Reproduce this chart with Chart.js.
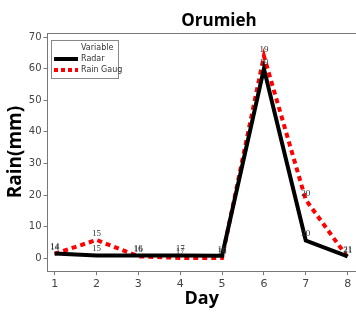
<!DOCTYPE html>
<html>
<head>
<meta charset="utf-8">
<script src="https://cdn.jsdelivr.net/npm/chart.js@4.4.0/dist/chart.umd.min.js"></script>
<style>
  html, body { margin: 0; padding: 0; background: #fff; }
  #wrap { width: 356px; height: 313px; }
</style>
</head>
<body>
<div id="wrap"><canvas id="chart" width="356" height="313"></canvas></div>
<script>
// values
const days = [1, 2, 3, 4, 5, 6, 7, 8];
const radar = [1.5, 0.9, 0.9, 0.9, 0.8, 60, 5.6, 0.6];
const rainGauge = [1.4, 5.8, 0.6, 0.1, 0.1, 64, 18.5, 0.3];
const pointLabels = ['14', '15', '16', '17', '18', '19', '20', '21'];
const yTicks = [0, 10, 20, 30, 40, 50, 60, 70];

const toXY = arr => arr.map((v, i) => ({ x: days[i], y: v }));

// frame top line, title, legend box and the little row labels
const extras = {
    id: 'extras',
    afterDatasetsDraw(chart) {
        const ctx = chart.ctx;
        const area = chart.chartArea;
        const xs = chart.scales.x, ys = chart.scales.y;
        ctx.save();

        ctx.strokeStyle = '#777';
        ctx.lineWidth = 1;
        ctx.beginPath();
        ctx.moveTo(area.left, area.top + 0.5);
        ctx.lineTo(area.right, area.top + 0.5);
        ctx.stroke();

        ctx.font = '9px "Liberation Serif"';
        ctx.fillStyle = '#333';
        ctx.textAlign = 'center';
        ctx.textBaseline = 'bottom';
        [radar, rainGauge].forEach(series => {
            series.forEach((v, i) => {
                ctx.fillText(pointLabels[i], xs.getPixelForValue(days[i]), ys.getPixelForValue(v) - 2);
            });
        });

        ctx.font = 'bold 17px "Open Sans"';
        ctx.fillStyle = '#000';
        ctx.textBaseline = 'middle';
        ctx.fillText('Orumieh', 219, 21);

        // legend
        const lx = 51, ly = 40;
        ctx.strokeStyle = '#888';
        ctx.strokeRect(lx + 0.5, ly + 0.5, 67, 38);
        ctx.font = '8px "DejaVu Sans"';
        ctx.fillStyle = '#333';
        ctx.textAlign = 'left';
        ctx.fillText('Variable', lx + 30, ly + 8);
        ctx.fillText('Radar', lx + 30, ly + 19);
        ctx.fillText('Rain Gaug', lx + 30, ly + 30);
        ctx.lineWidth = 4;
        ctx.strokeStyle = '#000';
        ctx.beginPath();
        ctx.moveTo(lx + 3, ly + 19);
        ctx.lineTo(lx + 27, ly + 19);
        ctx.stroke();
        ctx.strokeStyle = '#f00';
        ctx.setLineDash([4, 3]);
        ctx.beginPath();
        ctx.moveTo(lx + 3, ly + 30);
        ctx.lineTo(lx + 27, ly + 30);
        ctx.stroke();
        ctx.restore();
    }
};

new Chart(document.getElementById('chart'), {
    type: 'line',
    data: {
        datasets: [
            {
                label: 'Radar',
                data: toXY(radar),
                borderColor: '#000',
                borderWidth: 4,
                pointRadius: 0,
                tension: 0
            },
            {
                label: 'Rain Gaug',
                data: toXY(rainGauge),
                borderColor: '#f00',
                borderWidth: 4,
                borderDash: [5, 4],
                pointRadius: 0,
                tension: 0
            }
        ]
    },
    options: {
        responsive: false,
        animation: false,
        layout: { padding: { top: 33, right: 0, left: 4, bottom: 3 } },
        plugins: {
            legend: { display: false },
            tooltip: { enabled: false }
        },
        scales: {
            x: {
                type: 'linear',
                min: 0.83,
                max: 8.2,
                afterBuildTicks: axis => { axis.ticks = days.map(v => ({ value: v })); },
                grid: { display: true, drawOnChartArea: false, tickLength: 4, color: '#777' },
                border: { color: '#777' },
                ticks: { color: '#444', font: { size: 11, family: 'DejaVu Sans' }, padding: 2 },
                title: { display: true, text: 'Day', color: '#000', font: { size: 18, weight: 'bold', family: 'Open Sans' }, padding: { top: -4, bottom: 0 } }
            },
            y: {
                min: -4.1,
                max: 71.3,
                afterBuildTicks: axis => { axis.ticks = yTicks.map(v => ({ value: v })); },
                grid: { display: true, drawOnChartArea: false, tickLength: 4, color: '#777' },
                border: { color: '#777' },
                ticks: { color: '#444', font: { size: 10, family: 'DejaVu Sans' }, padding: 2 },
                title: { display: true, text: 'Rain(mm)', color: '#000', font: { size: 19, weight: 'bold', family: 'Open Sans' }, padding: { top: 0, bottom: 0 } }
            }
        }
    },
    plugins: [extras]
});
</script>
</body>
</html>
